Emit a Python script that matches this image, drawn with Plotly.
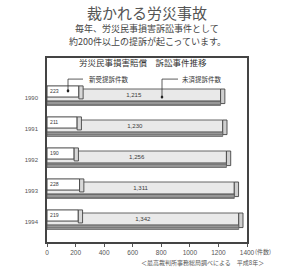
import plotly.graph_objects as go

years = [1990, 1991, 1992, 1993, 1994]
year_labels = ["1990", "1991", "1992", "1993", "1994"]
new_cases = [223, 211, 190, 228, 219]          # 新受提訴件数
pending_cases = [1215, 1230, 1256, 1311, 1342]  # 未済提訴件数
x_ticks = [0, 200, 400, 600, 800, 1000, 1200, 1400]

JP = "Noto Sans CJK JP"
INK = "#3a3a3a"
SIDE = 30  # depth of the 3D side face, in axis units

fig = go.Figure()

# long bar (pending cases)
fig.add_trace(go.Bar(
    y=years, x=pending_cases, orientation="h",
    offset=-0.29, width=0.39,
    marker=dict(color="#e9e9e9", line=dict(color="#555555", width=0.9)),
    texttemplate="%{x:,}", textposition="inside", insidetextanchor="middle",
    textfont=dict(size=7, color=INK, family="Liberation Sans"),
    showlegend=False, hoverinfo="skip"))

# right end face of long bar
fig.add_trace(go.Bar(
    y=years, x=[SIDE] * len(years), base=pending_cases, orientation="h",
    offset=-0.29, width=0.47,
    marker=dict(color="#cfcfcf", line=dict(color="#444444", width=0.9)),
    showlegend=False, hoverinfo="skip"))

# dark lower face of long bar
fig.add_trace(go.Bar(
    y=years, x=pending_cases, orientation="h",
    offset=0.1, width=0.14,
    marker=dict(color="#9a9a9a", line=dict(color="#555555", width=0.7),
                pattern=dict(shape="-", fgcolor="#5a5a5a", size=3, solidity=0.4)),
    showlegend=False, hoverinfo="skip"))

# short bar (new cases)
fig.add_trace(go.Bar(
    y=years, x=new_cases, orientation="h",
    offset=-0.39, width=0.36,
    marker=dict(color="#ffffff", line=dict(color="#444444", width=1)),
    texttemplate="%{x}", textposition="inside", insidetextanchor="start",
    textfont=dict(size=7, color=INK, family="Liberation Sans"),
    showlegend=False, hoverinfo="skip"))

# right side face of short bar
fig.add_trace(go.Bar(
    y=years, x=[SIDE] * len(years), base=new_cases, orientation="h",
    offset=-0.39, width=0.42,
    marker=dict(color="#d8d8d8", line=dict(color="#444444", width=0.9)),
    showlegend=False, hoverinfo="skip"))

fig.update_layout(
    barmode="overlay",
    width=291, height=273,
    margin=dict(l=47, r=44, t=58, b=31),
    paper_bgcolor="white", plot_bgcolor="white",
    xaxis=dict(range=[0, 1400], tickvals=x_ticks, ticks="outside", ticklen=3,
               tickcolor="#555", showgrid=False, zeroline=False,
               showline=True, linecolor="#444", linewidth=1.5, mirror=True,
               tickfont=dict(size=6.5, color="#555", family="Liberation Sans")),
    yaxis=dict(range=[1994.645, 1988.71], tickvals=years, ticktext=year_labels,
               ticks="", showgrid=False, zeroline=False,
               showline=True, linecolor="#444", linewidth=1.5, mirror=True,
               ticklabelstandoff=6,
               tickfont=dict(size=6, color="#555", family="Liberation Sans")),
)

ann = [
    dict(text="裁かれる労災事故", x=0.5, y=1.25, font=dict(size=15, color="#555", family=JP)),
    dict(text="毎年、労災民事損害訴訟事件として", x=0.5, y=1.158, font=dict(size=9, color="#444", family=JP)),
    dict(text="約200件以上の提訴が起こっています。", x=0.5, y=1.087, font=dict(size=9, color="#444", family=JP)),
    dict(text="労災民事損害賠償　訴訟事件推移", x=0.48, y=0.978, font=dict(size=8.5, color="#333", family=JP)),
    dict(text="(件数)", x=1.035, y=-0.054, xanchor="left", font=dict(size=6, color="#555", family=JP)),
    dict(text="＜最高裁判所事務総局調べによる　平成8年＞", x=0.775, y=-0.112,
         font=dict(size=6, color="#555", family=JP)),
]
for a in ann:
    fig.add_annotation(xref="paper", yref="paper", showarrow=False, yanchor="middle",
                       xanchor=a.pop("xanchor", "center"), borderpad=0, **a)

# legend labels with leader lines
fig.add_annotation(xref="x", yref="y", x=280, y=1989.39, text="新受提訴件数", showarrow=False,
                   xanchor="left", yanchor="middle", font=dict(size=6.5, color="#333", family=JP))
fig.add_annotation(xref="x", yref="y", x=930, y=1989.39, text="未済提訴件数", showarrow=False,
                   xanchor="left", yanchor="middle", font=dict(size=6.5, color="#333", family=JP))
for x0, x1, yb in [(147, 252, 1989.77), (805, 917, 1989.97)]:
    fig.add_shape(type="line", xref="x", yref="y", x0=x0, x1=x1, y0=1989.39, y1=1989.39,
                  line=dict(color="#333", width=0.8))
    fig.add_shape(type="line", xref="x", yref="y", x0=x0, x1=x0, y0=1989.39, y1=yb,
                  line=dict(color="#333", width=0.8))
    fig.add_shape(type="circle", xref="x", yref="y", x0=x0 - 9, x1=x0 + 9, y0=yb - 0.05, y1=yb + 0.05,
                  fillcolor="#222", line=dict(width=0))

fig.write_html("out.html", config={"displayModeBar": False},
               post_script="document.body.style.margin='0px';")
